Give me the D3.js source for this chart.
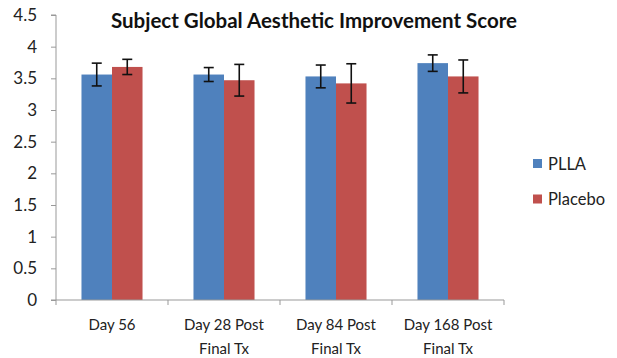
<!DOCTYPE html>
<html><head><meta charset="utf-8">
<script src="https://cdn.jsdelivr.net/npm/d3@7"></script>
<style>body{margin:0;background:#fff;} text{font-family:Lato, "Open Sans", sans-serif;}</style>
</head><body>
<svg id="c" width="617" height="358"></svg>
<script>
const categories = [["Day 56"], ["Day 28 Post", "Final Tx"], ["Day 84 Post", "Final Tx"], ["Day 168 Post", "Final Tx"]];
const seriesNames = ["PLLA", "Placebo"];
const pllaMean = [3.56, 3.56, 3.53, 3.74];
const pllaErr = [0.18, 0.11, 0.18, 0.13];
const placeboMean = [3.68, 3.47, 3.42, 3.53];
const placeboErr = [0.12, 0.25, 0.31, 0.26];
const yTicks = [0, 0.5, 1, 1.5, 2, 2.5, 3, 3.5, 4, 4.5];
const colors = ["#4F81BD", "#C0504D"];

const svg = d3.select("#c");
const mLeft = 56, mRight = 504, mTop = 15, mBottom = 300;
const x = d3.scaleBand().domain(d3.range(categories.length)).range([mLeft, mRight]).paddingInner(0.455).paddingOuter(0.2275);
const x1 = d3.scaleBand().domain(d3.range(seriesNames.length)).range([0, x.bandwidth()]);
const y = d3.scaleLinear().domain([0, 4.5]).range([mBottom, mTop]);

const means = [pllaMean, placeboMean];
const errs = [pllaErr, placeboErr];

// bars
means.forEach((m, s) => {
  svg.append("g").selectAll("rect").data(m).join("rect")
    .attr("x", (d, i) => x(i) + x1(s))
    .attr("y", d => y(d))
    .attr("width", x1.bandwidth())
    .attr("height", d => y(0) - y(d))
    .attr("fill", colors[s]);
});
// error bars
means.forEach((m, s) => {
  const g = svg.append("g").attr("stroke", "#111").attr("stroke-width", 1.6);
  m.forEach((d, i) => {
    const cx = x(i) + x1(s) + x1.bandwidth() / 2;
    const hi = y(d + errs[s][i]), lo = y(d - errs[s][i]);
    g.append("line").attr("x1", cx).attr("x2", cx).attr("y1", hi).attr("y2", lo);
    g.append("line").attr("x1", cx - 5).attr("x2", cx + 5).attr("y1", hi).attr("y2", hi);
    g.append("line").attr("x1", cx - 5).attr("x2", cx + 5).attr("y1", lo).attr("y2", lo);
  });
});

// y axis
const ya = svg.append("g").attr("transform", `translate(${mLeft},0)`)
  .call(d3.axisLeft(y).tickValues(yTicks).tickSize(5).tickFormat(d => String(d)));
ya.select(".domain").attr("stroke", "#999").attr("d", `M-5,${y(4.5)}H0V${y(0)}H-5`);
ya.selectAll(".tick line").attr("stroke", "#999");
ya.selectAll(".tick text").attr("font-size", 17).attr("fill", "#222").attr("x", -19)
  .style("font-family", "Lato, sans-serif");

// x axis
const xa = svg.append("g").attr("transform", `translate(0,${mBottom})`);
xa.append("line").attr("x1", mLeft).attr("x2", mRight).attr("y1", 0).attr("y2", 0).attr("stroke", "#999");
const bounds = d3.range(categories.length + 1).map(i => mLeft + i * (mRight - mLeft) / categories.length);
xa.selectAll("line.t").data(bounds).join("line").attr("class", "t")
  .attr("x1", d => d).attr("x2", d => d).attr("y1", 0).attr("y2", 5).attr("stroke", "#999");
categories.forEach((lines, i) => {
  const t = xa.append("text").attr("text-anchor", "middle").attr("font-size", 15).attr("fill", "#222");
  lines.forEach((ln, k) => {
    t.append("tspan").attr("x", x(i) + x.bandwidth() / 2).attr("y", 30 + k * 24).text(ln);
  });
});

// title
svg.append("text").attr("x", 314).attr("y", 28).attr("text-anchor", "middle")
  .attr("font-size", 20.5).attr("font-weight", "bold").attr("fill", "#111")
  .text("Subject Global Aesthetic Improvement Score");

// legend
const lg = svg.append("g");
seriesNames.forEach((n, i) => {
  const yy = 163.5 + i * 35.5;
  lg.append("rect").attr("x", 533).attr("y", yy - 4.5).attr("width", 9).attr("height", 9).attr("fill", colors[i]);
  lg.append("text").attr("x", 548).attr("y", yy + 6).attr("font-size", 16.5).attr("fill", "#222").text(n);
});
</script>
</body></html>
